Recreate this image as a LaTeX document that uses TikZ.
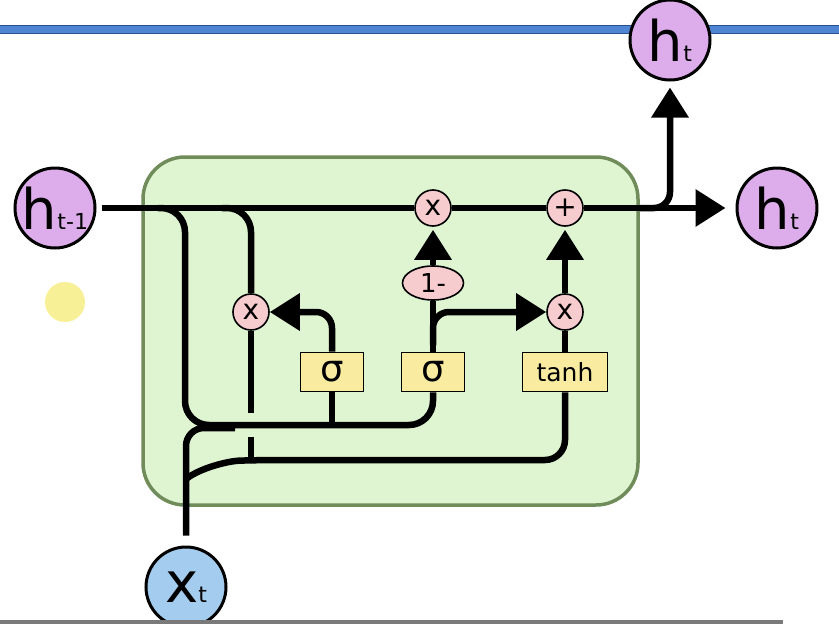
\documentclass[tikz,border=0pt]{standalone}
\usepackage{fontspec}
\setmainfont{DejaVu Sans}
\usetikzlibrary{arrows.meta,shapes.geometric}

\definecolor{statepurple}{RGB}{220,172,235}
\definecolor{inputblue}{RGB}{163,204,238}
\definecolor{oppink}{RGB}{246,204,206}
\definecolor{layeryellow}{RGB}{249,236,160}
\definecolor{cellfill}{RGB}{223,245,210}
\definecolor{celledge}{RGB}{112,140,90}
\definecolor{slideblue}{RGB}{79,134,212}
\definecolor{slideedge}{RGB}{40,80,140}
\definecolor{highlight}{RGB}{247,240,150}

\tikzset{
    flow/.style={line width=6.5pt, draw=black},
    arr/.style={-{Triangle[length=30pt,width=36pt]}},
    hstate/.style={circle, draw, line width=3pt, fill=statepurple, minimum size=80pt, inner sep=0pt},
    xinput/.style={hstate, fill=inputblue},
    op/.style={circle, draw, line width=1.6pt, fill=oppink, minimum size=36pt, inner sep=0pt, font=\fontsize{28}{28}\selectfont},
    layer/.style={rectangle, draw, line width=1.6pt, fill=layeryellow, minimum height=39pt, inner sep=0pt},
}

\newcommand{\hlabel}[2]{{\fontsize{56}{56}\selectfont #1}{\fontsize{22}{22}\selectfont #2}}

\begin{document}
\begin{tikzpicture}[x=1pt, y=-1pt]
    \useasboundingbox (0,0) rectangle (839,624);

    \fill[slideblue] (0,25) rectangle (839,33);
    \draw[slideedge, line width=1pt] (0,25) -- (839,25) (0,33) -- (839,33);
    \fill[highlight] (65,302) circle (20);

    \draw[line width=3.5pt, draw=celledge, fill=cellfill, rounded corners=42pt] (143,157) rectangle (638,505);

    \node[hstate] (hprev) at (55,208) {\hlabel{h}{t-1}};
    \node[hstate] (hout)  at (777,208) {\hlabel{h}{t}};
    \node[hstate] (hup)   at (670,40)  {\hlabel{h}{t}};
    \node[xinput] (xin)   at (186,587) {\hlabel{x}{t}};

    \node[op] (resetmul) at (251,312) {x};
    \node[op] (keepmul)  at (433,208) {x};
    \node[op] (addop)    at (565,208) {+};
    \node[op] (candmul)  at (565,312) {x};
    \node[op, ellipse, minimum width=61pt, minimum height=34pt, font=\fontsize{26}{26}\selectfont] (oneminus) at (433,283) {1-};

    \node[layer, minimum width=63pt, font=\fontsize{37}{37}\selectfont] (resetgate)  at (332,372) {σ};
    \node[layer, minimum width=63pt, font=\fontsize{37}{37}\selectfont] (updategate) at (433,372) {σ};
    \node[layer, minimum width=85pt, font=\fontsize{25}{25}\selectfont] (candlayer)  at (565,372) {tanh};

    \coordinate (hsplit)    at (158,208);
    \coordinate (rsplit)    at (222,208);
    \coordinate (upsplit)   at (640,208);
    \coordinate (zsplit)    at (433,345);
    \coordinate (xsplit)    at (186,479);
    \coordinate (gatebus)   at (185,425);
    \coordinate (bridgetop) at (251,413);
    \coordinate (bridgebot) at (251,437);
    \coordinate (candbus)   at (251,460);

    % state line
    \draw[flow, shorten <=5pt] (hprev) -- (keepmul);
    \draw[flow] (keepmul) -- (addop);
    \draw[flow, arr, shorten >=10pt] (addop) -- (hout);
    \draw[flow, arr, rounded corners=16pt, shorten >=6pt] (upsplit) -| (hup);

    % gate inputs
    \draw[flow, rounded corners=24pt] (hsplit) -- (185,208) -- (gatebus) -- (433,425) -- (updategate.south);
    \draw[flow] (resetgate.south) -- (resetgate.south |- gatebus);
    \draw[flow, rounded corners=18pt, shorten <=10pt] (xin) -- (186,428) -- (235,428);
    \draw[flow, rounded corners=20pt] (xsplit) .. controls (200,468) and (228,461) .. (260,460) -- (565,460) -- (candlayer.south);

    % reset path
    \draw[flow, rounded corners=24pt] (rsplit) -- (251,208) -- (resetmul.north);
    \draw[flow, arr, rounded corners=16pt] (resetgate.north) |- (resetmul.east);
    \draw[flow] (resetmul.south) -- (bridgetop);
    \draw[flow] (bridgebot) -- (candbus);

    % update path
    \draw[flow] (updategate.north) -- (oneminus.south);
    \draw[flow, arr, shorten >=3pt] (oneminus.north) -- (keepmul.south);
    \draw[flow, arr, rounded corners=16pt] (zsplit) |- (candmul.west);
    \draw[flow] (candlayer.north) -- (candmul.south);
    \draw[flow, arr, shorten >=3pt] (candmul.north) -- (addop.south);

    \fill[black!52] (0,620) rectangle (783,624);
\end{tikzpicture}
\end{document}
